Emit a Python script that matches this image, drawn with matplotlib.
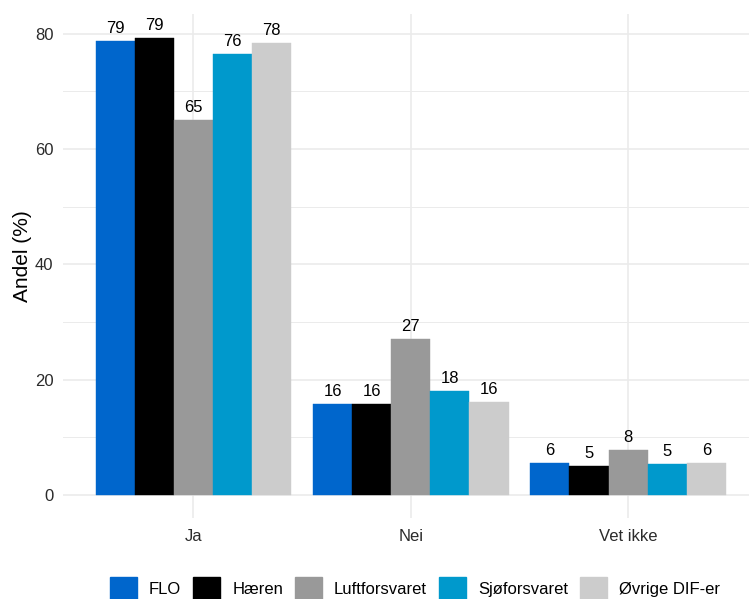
import matplotlib
matplotlib.use("Agg")
import matplotlib.pyplot as plt
import numpy as np
from matplotlib.patches import Patch

categories = ["Ja", "Nei", "Vet ikke"]
groups = ["FLO", "Hæren", "Luftforsvaret", "Sjøforsvaret", "Øvrige DIF-er"]
colors = ["#0066CC", "#000000", "#999999", "#0099CC", "#CCCCCC"]

flo = [78.7, 15.8, 5.6]
haeren = [79.2, 15.8, 5.1]
luftforsvaret = [65.0, 27.0, 7.8]
sjoforsvaret = [76.4, 18.1, 5.3]
ovrige = [78.4, 16.1, 5.6]
series = [flo, haeren, luftforsvaret, sjoforsvaret, ovrige]

y_ticks = [0, 20, 40, 60, 80]

plt.rcParams['font.family'] = ['Liberation Sans', 'DejaVu Sans']

fig = plt.figure(figsize=(7.49, 5.99), dpi=100)
ax = fig.add_axes([63/749, 1-518/599, (758.5-63)/749, (518-14)/599])

x = np.arange(1, len(categories) + 1)
n = len(groups)
bw = 0.9 / n
for i, (g, vals, c) in enumerate(zip(groups, series, colors)):
    off = (i - (n - 1) / 2) * bw
    ax.bar(x + off, vals, width=bw, color=c, label=g, zorder=3,
           edgecolor=c, linewidth=0.3)
    for xi, v in zip(x + off, vals):
        ax.annotate(f"{int(round(v))}", (xi, v), xytext=(0, 5.8),
                    textcoords="offset points", ha="center", va="baseline",
                    fontsize=12, color="black", zorder=4)

ax.set_xlim(0.4, 3.6)
ax.set_ylim(-3.99, 83.4)
ax.set_xticks(x)
ax.set_xticklabels(categories)
ax.set_yticks(y_ticks)
ax.set_yticks([10, 30, 50, 70], minor=True)

ax.grid(True, which="major", color="#EBEBEB", linewidth=1.2, zorder=0)
ax.grid(True, which="minor", axis="y", color="#EBEBEB", linewidth=0.7, zorder=0)
ax.set_axisbelow(True)
for s in ax.spines.values():
    s.set_visible(False)
ax.tick_params(axis="both", which="both", length=0, labelsize=12, labelcolor="#2b2b2b")
ax.tick_params(axis="x", pad=8)
ax.tick_params(axis="y", pad=7)

ax.set_ylabel("Andel (%)", fontsize=15, color="black")
ax.yaxis.set_label_coords(-0.0446, 0.519)

handles = [Patch(facecolor=c, edgecolor=c, label=g) for g, c in zip(groups, colors)]
fig.legend(handles=handles, loc="center", bbox_to_anchor=(415/749, 1-589/599),
           ncol=5, frameon=False, fontsize=12, handlelength=1.62, handleheight=1.75,
           handletextpad=0.72, columnspacing=0.72, borderpad=0, borderaxespad=0)

fig.savefig("out.png", dpi=100)
